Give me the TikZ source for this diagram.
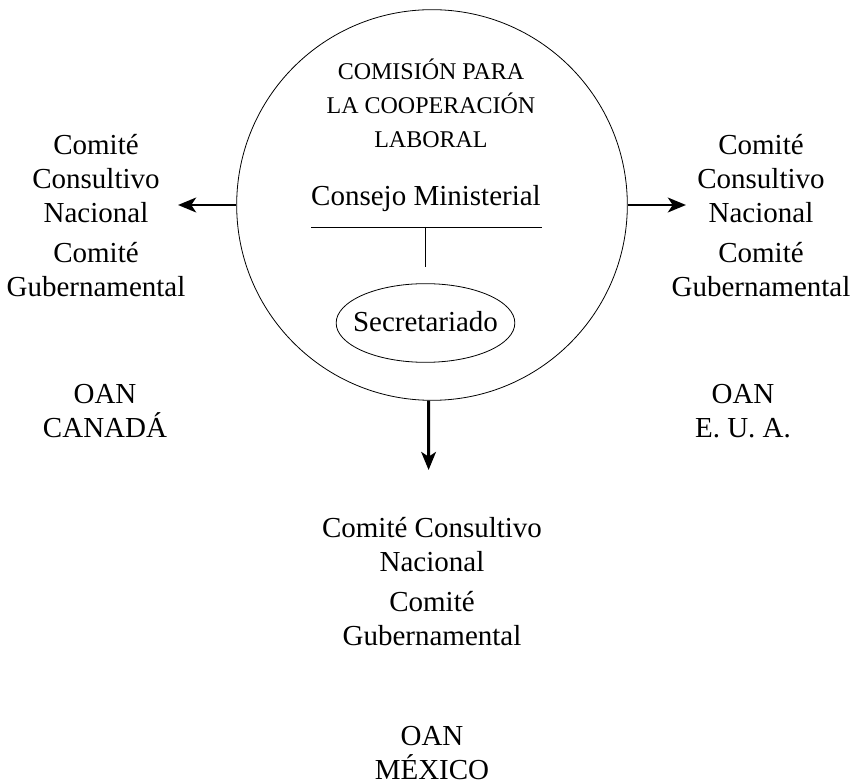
\documentclass[tikz,border=0pt]{standalone}
\usepackage{fontspec}
\setmainfont{Liberation Serif}
\usetikzlibrary{arrows.meta,shapes.geometric}

\tikzset{every picture/.style={line width=0.75pt}}
\tikzset{
  lbl/.style={font=\fontsize{21.75}{25.5}\selectfont, align=center, anchor=base, inner sep=0pt},
  caps/.style={font=\fontsize{18}{25.5}\selectfont, align=center, anchor=base, inner sep=0pt},
  flecha/.style={line width=2.2pt, -{Stealth[length=13.5pt, width=11pt, inset=3.5pt]}}
}

\begin{document}
\begin{tikzpicture}[x=0.75pt,y=0.75pt,yscale=-1,xscale=1]
	\useasboundingbox (0,0) rectangle (858,784);

	%Shape: Circle [id:comision]
	\node [draw, circle, line width=0.6pt, minimum size=293pt, inner sep=0pt] (comision) at (432,205) {};

	% Text Node
	\node [caps] (titulo) at (431,148) {COMISIÓN PARA\\LA COOPERACIÓN\\LABORAL};
	% Text Node
	\node [lbl] (consejo) at (426,206) {Consejo Ministerial};

	%Straight Lines [id:barra]
	\coordinate (barraIzq) at (311,227);
	\coordinate (barraDer) at (542,227);
	\coordinate (barraMed) at (425,227);
	\coordinate (barraFin) at (425,267);
	\draw [line width=0.6pt] (barraIzq) -- (barraDer);
	\draw [line width=0.6pt] (barraMed) -- (barraFin);

	%Shape: Ellipse [id:secretariado]
	\node [draw, ellipse, line width=0.6pt, minimum width=134pt, minimum height=59pt, inner sep=0pt] (secretariado) at (425.5,323) {};
	\node [lbl] (secretariadoTxt) at (425.5,332) {Secretariado};

	% Text Node
	\node [lbl] (canCCN) at (96,223) {Comité\\Consultivo\\Nacional};
	\node [lbl] (canCG) at (96,297) {Comité\\Gubernamental};
	\node [lbl] (canOAN) at (105,438) {OAN\\CANADÁ};

	% Text Node
	\node [lbl] (euaCCN) at (761,223) {Comité\\Consultivo\\Nacional};
	\node [lbl] (euaCG) at (761,297) {Comité\\Gubernamental};
	\node [lbl] (euaOAN) at (743,438) {OAN\\E. U. A.};

	% Text Node
	\node [lbl] (mexCCN) at (432,572) {Comité Consultivo\\Nacional};
	\node [lbl] (mexCG) at (432,646) {Comité\\Gubernamental};
	\node [lbl] (mexOAN) at (432,779) {OAN\\MÉXICO};

	%Arrows
	\coordinate (canTip) at (178,205);
	\coordinate (euaTip) at (686,205);
	\coordinate (mexTip) at (428.6,470);
	\draw [flecha] (comision.180) -- (canTip);
	\draw [flecha] (comision.0) -- (euaTip);
	\draw [flecha] (comision.-91) -- (mexTip);

\end{tikzpicture}
\end{document}
